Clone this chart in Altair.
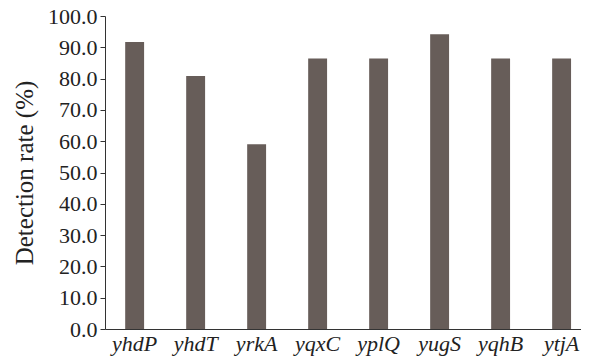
import altair as alt
import pandas as pd

genes = ["yhdP", "yhdT", "yrkA", "yqxC", "yplQ", "yugS", "yqhB", "ytjA"]
rates = [91.7, 80.8, 59.0, 86.4, 86.4, 94.2, 86.4, 86.4]
y_ticks = [0, 10, 20, 30, 40, 50, 60, 70, 80, 90, 100]

df = pd.DataFrame({"gene": genes, "rate": rates})

FONT = "Liberation Serif"

chart = (
    alt.Chart(df)
    .mark_bar(color="#675d59")
    .encode(
        x=alt.X(
            "gene:N",
            sort=genes,
            title=None,
            scale=alt.Scale(paddingInner=0.69, paddingOuter=0.247, align=0.67),
            axis=alt.Axis(
                labelAngle=0,
                ticks=False,
                domainColor="#333333",
                labelFont=FONT,
                labelFontSize=22,
                labelFontStyle="italic",
                labelColor="#222222",
                labelPadding=4,
            ),
        ),
        y=alt.Y(
            "rate:Q",
            title="Detection rate (%)",
            scale=alt.Scale(domain=[0, 100], nice=False),
            axis=alt.Axis(
                values=y_ticks,
                format=".1f",
                grid=False,
                tickSize=5,
                tickColor="#333333",
                domainColor="#333333",
                labelFont=FONT,
                labelFontSize=22,
                labelColor="#222222",
                labelPadding=3,
                titleFont=FONT,
                titleFontSize=25,
                titleFontWeight="normal",
                titleColor="#222222",
                titleX=-73,
                titleY=156.5,
                titleBaseline="alphabetic",
            ),
        ),
    )
    .properties(
        width=476,
        height=313,
        autosize=alt.AutoSizeParams(type="none"),
        padding={"left": 97, "top": 8, "right": 0, "bottom": 31},
    )
    .configure_view(stroke=None)
)

chart.save("out.html", embed_options={"renderer": "svg", "actions": False})
